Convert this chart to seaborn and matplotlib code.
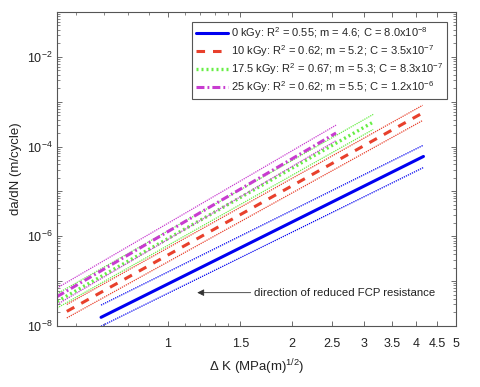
# da/dN - Delta K log-log grafigi (Paris yasasi uyumlari + guven sinirlari)
import numpy as np
import pandas as pd
import matplotlib
matplotlib.use('Agg')
import matplotlib.pyplot as plt
import matplotlib.ticker as mticker
import seaborn as sns

# -------------------------------------------------------
# VERI
# -------------------------------------------------------
doz_etiket = ['0 kGy', '10 kGy', '17.5 kGy', '25 kGy']
r2_deger = ['0.55', '0.62', '0.67', '0.62']
m_deger = ['4.6', '5.2', '5.3', '5.5']
c_deger = ['8.0x10$^{-8}$', '3.5x10$^{-7}$', '8.3x10$^{-7}$', '1.2x10$^{-6}$']

# her uyum cizgisinin baslangic / bitis Delta K degerleri
dk_bas = [0.69, 0.57, 0.54, 0.54]
dk_son = [4.17, 4.15, 3.15, 2.56]

# uyum cizgisi (orta), ust ve alt sinirin baslangic / bitis da/dN degerleri
hiz_bas = [1.55e-8, 2.1e-8, 3.5e-8, 4.5e-8]
hiz_son = [6.0e-5, 5.6e-4, 3.5e-4, 2.0e-4]
ust_bas = [2.9e-8, 3.0e-8, 5.2e-8, 7.0e-8]
ust_son = [1.07e-4, 8.3e-4, 5.2e-4, 3.0e-4]
alt_bas = [9.8e-9, 1.5e-8, 2.5e-8, 3.0e-8]
alt_son = [3.4e-5, 3.8e-4, 2.4e-4, 1.35e-4]

x_tikler = [1, 1.5, 2, 2.5, 3, 3.5, 4, 4.5, 5]
x_tik_etiket = ['1', '1.5', '2', '2.5', '3', '3.5', '4', '4.5', '5']

# -------------------------------------------------------
# STIL
# -------------------------------------------------------
sns.set_style('ticks')
plt.rcParams['font.family'] = ['Liberation Sans', 'DejaVu Sans']
plt.rcParams['mathtext.fontset'] = 'custom'
plt.rcParams['mathtext.rm'] = 'Liberation Sans'
plt.rcParams['mathtext.it'] = 'Liberation Sans:italic'
plt.rcParams['mathtext.default'] = 'regular'

renkler = ['#0000f0', '#e8402c', '#66ee44', '#c83cd0']
cizgi_stil = ['-', (0, (2.8, 2.6)), (0, (0.6, 0.9)), (0, (2.6, 1.0, 0.6, 1.0))]
cizgi_kalinlik = [2.2, 2.2, 2.4, 2.2]

fig = plt.figure(figsize=(4.8, 3.87), dpi=100)
ax = fig.add_axes([0.119, 0.158, 0.831, 0.811])

ana_cizgiler = []
for i in range(len(doz_etiket)):
    # ust ve alt guven sinirlari (ince noktali)
    for yb, ys in [(ust_bas[i], ust_son[i]), (alt_bas[i], alt_son[i])]:
        sns.lineplot(x=[dk_bas[i], dk_son[i]], y=[yb, ys], ax=ax,
                     color=renkler[i], linestyle=(0, (1, 0.8)), linewidth=0.9)
    # uyum cizgisi
    sns.lineplot(x=[dk_bas[i], dk_son[i]], y=[hiz_bas[i], hiz_son[i]], ax=ax,
                 color=renkler[i], linestyle=cizgi_stil[i],
                 linewidth=cizgi_kalinlik[i])
    ana_cizgiler.append(ax.lines[-1])

ax.set_xscale('log')
ax.set_yscale('log')
ax.set_xlim(0.54, 5.0)
ax.set_ylim(1e-8, 1e-1)

# x ekseni tikleri
ax.xaxis.set_major_locator(mticker.FixedLocator(x_tikler))
ax.xaxis.set_major_formatter(mticker.FixedFormatter(x_tik_etiket))
ax.xaxis.set_minor_locator(mticker.FixedLocator([0.6, 0.7, 0.8, 0.9, 1.1, 1.2, 1.3, 1.4]))
ax.xaxis.set_minor_formatter(mticker.NullFormatter())

# y ekseni: her on katta tik, sadece cift usluler etiketli
ax.yaxis.set_major_locator(mticker.LogLocator(base=10, numticks=20))
ax.yaxis.set_minor_locator(mticker.LogLocator(base=10, subs=np.arange(2, 10), numticks=20))
ax.yaxis.set_minor_formatter(mticker.NullFormatter())


def y_etiket(v, pos):
    us = int(round(np.log10(v)))
    return '10$^{%d}$' % us if us % 2 == 0 else ''


ax.yaxis.set_major_formatter(mticker.FuncFormatter(y_etiket))

kenar = '#555555'
for sp in ax.spines.values():
    sp.set_color(kenar)
    sp.set_linewidth(0.8)
ax.tick_params(which='both', direction='in', top=True, right=True,
               color=kenar, labelcolor='#222222', labelsize=9)
ax.tick_params(which='major', length=3.5, width=0.6)
ax.tick_params(which='minor', length=2, width=0.5)
ax.tick_params(axis='x', pad=9)

ax.set_xlabel(r'$\Delta$ K (MPa(m)$^{1/2}$)', fontsize=9.5, color='#222222', labelpad=5)
ax.set_ylabel('da/dN (m/cycle)', fontsize=9.5, color='#222222', labelpad=3)

# lejant
etiketler = [f'{d}: R$^2$ = {r}; m = {m}; C = {c}'
             for d, r, m, c in zip(doz_etiket, r2_deger, m_deger, c_deger)]
leg = ax.legend(ana_cizgiler, etiketler, loc='upper right',
                bbox_to_anchor=(0.977, 0.968), borderaxespad=0, fontsize=8,
                frameon=True, fancybox=False, framealpha=1, edgecolor=kenar,
                handlelength=2.9, handletextpad=0.3, borderpad=0.3,
                labelspacing=0.2)
leg.get_frame().set_linewidth(0.8)

# ok ve aciklama
ax.annotate('', xy=(1.18, 5.5e-8), xytext=(1.59, 5.5e-8),
            arrowprops=dict(arrowstyle='-|>', color='#333333', lw=0.6,
                            mutation_scale=10, shrinkA=0, shrinkB=0))
ax.text(1.62, 5.5e-8, 'direction of reduced FCP resistance', fontsize=8.2,
        va='center', ha='left', color='#222222')

fig.savefig('out.png', dpi=100)
